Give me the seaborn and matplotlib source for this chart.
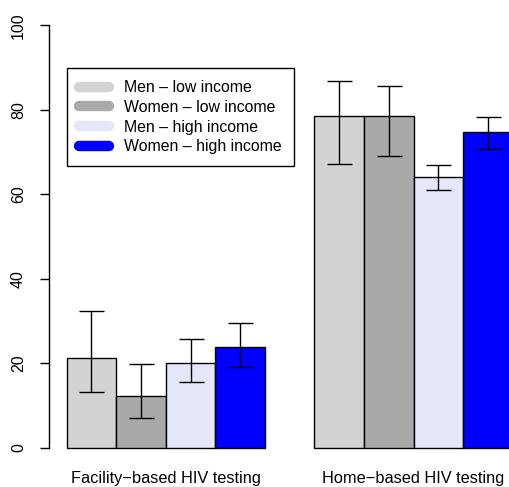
import pandas as pd
import matplotlib
matplotlib.use("Agg")
import matplotlib.pyplot as plt
import seaborn as sns
from matplotlib.lines import Line2D

# values
tests = ["Facility\u2212based HIV testing", "Home\u2212based HIV testing"]
groups = ["Men \u2013 low income", "Women \u2013 low income",
          "Men \u2013 high income", "Women \u2013 high income"]
colors = ["#D3D3D3", "#A9A9A9", "#E6E6FA", "#0000FF"]

# percent per group, one value per test
pct = [
    [21.3, 78.5],
    [12.2, 78.5],
    [20.0, 64.0],
    [23.9, 74.7],
]
ci_low = [
    [13.3, 67.2],
    [7.1, 69.1],
    [15.5, 61.0],
    [19.2, 70.8],
]
ci_high = [
    [32.4, 86.8],
    [19.7, 85.7],
    [25.7, 67.0],
    [29.6, 78.3],
]

rows = []
for g, vals in zip(groups, pct):
    for t, v in zip(tests, vals):
        rows.append({"test": t, "group": g, "pct": v})
df = pd.DataFrame(rows)

sns.set_style("white")
plt.rcParams["font.family"] = ["Liberation Sans", "DejaVu Sans"]
plt.rcParams["text.color"] = "black"

fig = plt.figure(figsize=(5.1, 4.87), dpi=100)
ax = fig.add_axes([0.0957, 0.046, 0.9447, 0.9368])

sns.barplot(data=df, x="test", y="pct", hue="group", hue_order=groups,
            palette=colors, saturation=1, edgecolor="black", linewidth=1,
            errorbar=None, legend=False, ax=ax)

# error bars on top of each bar
bar_conts = list(ax.containers)
for i, cont in enumerate(bar_conts):
    for j, bar in enumerate(cont.patches):
        xc = bar.get_x() + bar.get_width() / 2
        v = pct[i][j]
        ax.errorbar(xc, v, yerr=[[v - ci_low[i][j]], [ci_high[i][j] - v]],
                    fmt="none", ecolor="black", elinewidth=1, capsize=9,
                    capthick=1)

ax.set_ylim(-4, 104)
ax.set_xlim(-0.472, 1.472)
ax.set_yticks([0, 20, 40, 60, 80, 100])
ax.set_yticklabels(["0", "20", "40", "60", "80", "100"], rotation=90,
                   va="center", fontsize=11.5)
ax.tick_params(axis="y", length=6.5, width=1, color="black", pad=10,
               left=True, labelcolor="black")
ax.tick_params(axis="x", length=0, pad=4.5, labelsize=11.8,
               labelcolor="black")
ax.set_xlabel("")
ax.set_ylabel("")

for s in ["top", "right", "bottom"]:
    ax.spines[s].set_visible(False)
ax.spines["left"].set_bounds(0, 100)
ax.spines["left"].set_color("black")
ax.spines["left"].set_linewidth(1)

handles = [Line2D([0], [0], color=c, lw=7.5, solid_capstyle="round")
           for c in colors]
leg = ax.legend(handles, groups, loc="upper left",
                bbox_to_anchor=(66.7 / 510, 1 - 68.3 / 487),
                bbox_transform=fig.transFigure, borderaxespad=0,
                fancybox=False, framealpha=1, edgecolor="black",
                fontsize=11.4, handlelength=1.95, handletextpad=0.95,
                labelspacing=0.3, borderpad=0.75)
leg.get_frame().set_linewidth(1)
for t in leg.get_texts():
    t.set_color("black")

fig.savefig("out.png", dpi=100)
